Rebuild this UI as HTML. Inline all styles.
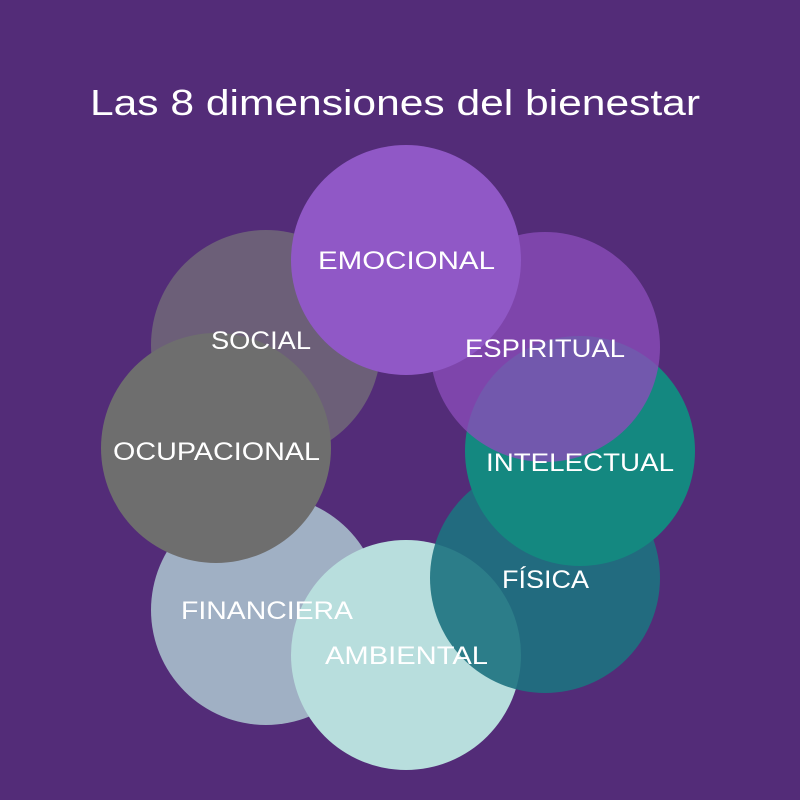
<!DOCTYPE html>
<html><head><meta charset="utf-8"><style>
body{margin:0;background:#532c78;}
</style></head><body>
<svg width="800" height="800" xmlns="http://www.w3.org/2000/svg" style="display:block">
<rect width="800" height="800" fill="#532c78"/>
<text x="90" y="115" textLength="610" lengthAdjust="spacingAndGlyphs" font-family="Liberation Sans, sans-serif" font-size="36" fill="#fff">Las 8 dimensiones del bienestar</text>
<circle cx="266" cy="345" r="115" fill="#6c5f78"/>
<circle cx="266" cy="610" r="115" fill="#a0b0c4"/>
<circle cx="406" cy="655" r="115" fill="#b8dedd"/>
<circle cx="545" cy="578" r="115" fill="#1d7280" fill-opacity="0.9"/>
<circle cx="580" cy="451" r="115" fill="#148880"/>
<circle cx="545" cy="347" r="115" fill="#8a4cb8" fill-opacity="0.8"/>
<circle cx="216" cy="448" r="115" fill="#6e6e6e"/>
<circle cx="406" cy="260" r="115" fill="#9058c6"/>
<g font-family="Liberation Sans, sans-serif" font-size="25" fill="#fff">
<text x="318" y="269" textLength="177" lengthAdjust="spacingAndGlyphs">EMOCIONAL</text>
<text x="465" y="357" textLength="160" lengthAdjust="spacingAndGlyphs">ESPIRITUAL</text>
<text x="486" y="471" textLength="188" lengthAdjust="spacingAndGlyphs">INTELECTUAL</text>
<text x="502" y="588" textLength="87" lengthAdjust="spacingAndGlyphs">FÍSICA</text>
<text x="325" y="664" textLength="163" lengthAdjust="spacingAndGlyphs">AMBIENTAL</text>
<text x="181" y="619" textLength="172" lengthAdjust="spacingAndGlyphs">FINANCIERA</text>
<text x="113" y="460" textLength="207" lengthAdjust="spacingAndGlyphs">OCUPACIONAL</text>
<text x="211" y="349" textLength="100" lengthAdjust="spacingAndGlyphs">SOCIAL</text>
</g>
</svg>
</body></html>
